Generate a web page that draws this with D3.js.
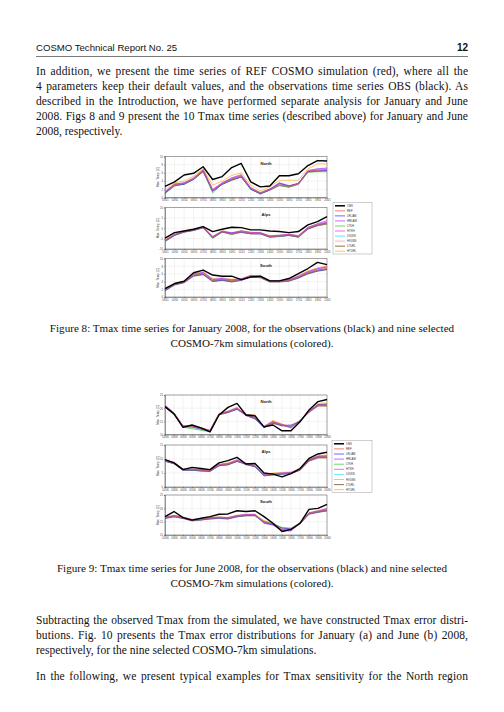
<!DOCTYPE html>
<html><head><meta charset="utf-8">
<script src="https://cdn.jsdelivr.net/npm/d3@7/dist/d3.min.js"></script>
<style>
html,body{margin:0;padding:0;background:#fff;}
svg{display:block;}
</style>
</head><body>
<svg id="page" width="504" height="712"></svg>
<script>
// ---------------- DATA ----------------
const seriesNames = ["OBS","REF","LRLAM","HRLAM","LTKH","HTKH","LV0SN","HV0SN","LTURL","HTURL"];
const seriesColors = ["#000000","#f0504a","#3a3aff","#a040ff","#30d030","#ff30ff","#30e0f0","#ff90a8","#7a3a10","#ffb020"];

const janDates = ["03/01","04/01","05/01","06/01","07/01","08/01","09/01","10/01","11/01","12/01","13/01","14/01","15/01","16/01","17/01","18/01","19/01","20/01"];
const junDates = ["02/06","03/06","04/06","05/06","06/06","07/06","08/06","09/06","10/06","11/06","12/06","13/06","14/06","15/06","16/06","17/06","18/06","19/06","20/06"];

const janNorthTicks = [0,2,4,6,8,10];
const janAlpsTicks = [-10,-5,0,5,10];
const janSouthTicks = [0,2,4,6,8,10];
const junNorthTicks = [10,15,20,25];
const junAlpsTicks = [0,5,10,15];
const junSouthTicks = [10,15,20,25];

// rows follow seriesNames order
const janNorth = [
 [2.7,3.8,5.5,5.9,7.5,4.4,5.1,7.3,8.3,3.8,2.6,2.8,5.3,5.3,5.8,7.8,9.0,8.9],
 [1.3,3.1,3.5,4.6,6.6,1.8,3.4,4.5,5.2,2.3,1.1,2.0,3.1,2.7,3.4,6.4,6.6,6.8],
 [1.1,3.0,3.2,4.4,6.4,1.5,3.2,4.3,5.0,2.0,0.9,1.8,3.4,2.8,3.5,6.3,6.5,6.6],
 [1.4,3.3,3.6,4.8,6.8,2.0,3.6,4.8,5.6,2.4,1.2,2.1,3.6,2.9,3.3,6.6,7.0,7.2],
 [1.0,2.9,3.3,4.5,6.5,1.1,3.3,4.4,5.0,2.1,0.8,1.9,3.0,2.6,3.3,6.2,6.3,6.3],
 [1.2,3.2,3.4,4.7,6.7,1.7,3.5,4.7,5.4,2.2,1.0,2.0,3.5,2.8,3.4,6.5,6.9,7.0],
 [1.3,3.1,3.4,4.6,6.6,1.8,3.4,4.5,5.2,2.3,1.1,2.0,3.1,2.7,3.4,6.4,6.6,6.8],
 [1.4,3.2,3.5,4.5,6.6,1.9,3.4,4.6,5.3,2.3,1.1,2.1,3.1,2.7,3.4,6.4,6.7,6.8],
 [1.0,2.8,3.3,4.4,6.3,1.6,3.2,4.2,5.0,2.0,1.0,1.8,2.9,2.5,3.2,6.2,6.4,6.5],
 [1.8,3.6,4.0,5.2,7.0,3.0,4.0,5.4,6.0,3.0,1.6,2.6,4.2,4.2,4.2,7.0,8.2,8.2]
];
const janAlps = [
 [-4.8,-2.1,-1.3,-0.5,0.8,-1.6,-0.5,0.5,0.3,-0.8,-0.8,-1.3,-1.6,-2.1,-1.6,1.6,3.2,5.6],
 [-6.0,-3.2,-1.6,-0.8,0.5,-4.4,-1.6,-2.7,-1.6,-2.4,-2.4,-4.0,-3.7,-3.2,-4.0,0.0,1.6,2.4],
 [-6.2,-3.4,-1.8,-1.0,0.3,-4.6,-1.8,-2.4,-1.9,-2.6,-2.7,-4.2,-3.9,-3.4,-4.2,-0.2,1.4,2.6],
 [-5.8,-3.0,-1.4,-0.6,0.7,-4.0,-1.4,-2.2,-1.2,-2.0,-2.1,-3.7,-3.4,-2.9,-3.6,0.4,2.2,3.7],
 [-6.3,-3.4,-1.7,-0.9,0.4,-4.8,-1.7,-2.9,-1.8,-2.6,-2.5,-4.2,-3.9,-3.4,-4.2,-0.2,1.4,2.2],
 [-5.9,-3.1,-1.5,-0.7,0.6,-4.2,-1.5,-2.5,-1.4,-2.2,-2.3,-3.8,-3.5,-3.0,-3.8,0.2,1.9,3.0],
 [-6.0,-3.2,-1.6,-0.8,0.5,-4.4,-1.6,-2.7,-1.6,-2.4,-2.4,-4.0,-3.7,-3.2,-4.0,0.0,1.6,2.4],
 [-6.1,-3.3,-1.6,-0.8,0.5,-4.3,-1.6,-2.6,-1.7,-2.4,-2.5,-4.0,-3.7,-3.3,-4.0,0.0,1.7,2.5],
 [-6.4,-3.5,-1.9,-1.1,0.2,-4.7,-1.9,-3.0,-2.0,-2.7,-2.7,-4.3,-4.0,-3.5,-4.3,-0.4,1.2,2.0],
 [-5.6,-2.8,-1.3,-0.5,0.8,-3.8,-1.2,-2.2,-1.2,-2.0,-2.0,-3.6,-3.3,-2.8,-3.6,0.5,2.0,2.8]
];
const janSouth = [
 [2.2,3.5,4.1,6.3,7.0,5.7,5.4,5.4,4.5,5.2,5.4,4.2,4.2,4.8,6.1,7.4,9.0,8.4],
 [1.9,3.3,3.9,5.7,6.1,4.3,4.6,4.2,4.5,5.4,5.2,4.1,4.1,4.3,5.2,6.3,7.0,7.4],
 [1.7,3.2,3.8,5.5,5.9,4.1,4.4,4.0,4.4,5.3,5.1,4.0,4.0,4.2,5.0,6.1,6.8,7.2],
 [2.1,3.4,4.0,6.0,6.4,4.6,4.8,4.5,4.7,5.6,5.4,4.2,4.2,4.5,5.4,6.6,7.4,7.8],
 [1.8,3.2,3.8,5.6,6.0,4.2,4.5,4.1,4.4,5.3,5.1,4.0,4.0,4.2,5.1,6.2,6.9,7.3],
 [2.0,3.4,4.0,5.9,6.3,4.5,4.7,4.4,4.6,5.5,5.3,4.2,4.2,4.4,5.3,6.5,7.3,7.9],
 [1.9,3.3,3.9,5.7,6.1,4.3,4.6,4.2,4.5,5.4,5.2,4.1,4.1,4.3,5.2,6.3,7.0,7.4],
 [2.0,3.3,3.9,5.8,6.2,4.4,4.6,4.3,4.5,5.4,5.2,4.1,4.1,4.3,5.2,6.4,7.2,7.7],
 [1.6,3.1,3.7,5.4,5.8,4.0,4.3,3.9,4.3,5.2,5.0,3.9,3.9,4.1,4.9,6.0,6.7,7.1],
 [2.2,3.5,4.1,6.1,6.6,4.8,5.0,4.6,4.8,5.6,5.5,4.3,4.3,4.6,5.6,6.8,7.6,8.0]
];
const junNorth = [
 [20.6,17.8,12.7,13.6,12.5,11.0,17.4,20.3,21.8,17.4,17.0,12.9,13.6,11.4,11.4,14.8,19.3,22.5,23.3],
 [20.8,18.0,13.2,13.2,12.3,11.4,17.8,18.6,19.9,17.4,16.1,12.9,14.8,13.6,13.2,15.2,18.6,21.2,21.2],
 [21.0,18.2,13.0,12.8,12.0,11.2,17.6,18.4,19.6,17.2,15.9,12.6,14.4,13.4,13.6,15.0,18.8,21.4,21.6],
 [20.6,17.8,13.3,13.4,12.5,11.6,17.9,18.8,20.1,17.5,16.3,13.1,14.9,13.8,12.6,15.3,18.5,21.0,21.0],
 [20.7,17.9,12.8,12.2,11.6,11.0,17.6,18.5,19.8,17.3,16.0,12.8,14.6,13.5,13.1,15.1,18.6,21.2,21.3],
 [20.9,18.0,13.2,13.3,12.4,11.5,17.8,18.7,20.0,17.4,16.2,13.0,14.9,13.7,12.4,15.2,18.7,21.3,21.3],
 [20.8,18.0,13.2,13.2,12.3,11.4,17.8,18.6,19.9,17.4,16.1,12.9,14.8,13.6,13.2,15.2,18.6,21.2,21.2],
 [20.8,18.1,13.1,13.1,12.3,11.4,17.7,18.6,19.9,17.5,16.2,12.9,14.7,13.6,13.3,15.2,18.7,21.3,21.3],
 [20.4,17.6,12.9,13.0,12.1,11.2,17.5,18.3,19.6,17.6,17.4,12.6,14.2,13.3,13.0,15.0,18.4,20.8,20.8],
 [21.2,18.3,13.4,13.5,12.6,11.6,18.0,18.9,20.4,17.2,16.0,13.2,15.4,14.0,13.0,15.4,19.0,21.8,22.0]
];
const junAlps = [
 [9.8,8.6,6.2,7.0,6.6,6.2,8.6,9.4,10.6,8.2,8.4,5.0,4.6,3.6,4.8,6.6,10.2,11.8,12.4],
 [9.4,8.6,6.2,6.2,6.0,5.8,7.8,8.2,9.4,8.2,7.4,4.2,4.6,4.8,5.0,6.2,9.6,10.8,10.8],
 [9.2,8.4,6.0,6.0,5.8,5.6,7.6,8.0,9.2,8.0,7.2,4.0,4.4,4.6,4.9,6.0,9.4,10.6,10.6],
 [9.6,8.8,6.4,6.4,6.2,6.0,8.0,8.4,9.6,8.4,7.6,4.4,4.8,5.0,5.2,6.4,9.8,11.0,11.2],
 [9.3,8.5,6.1,6.0,5.8,5.6,7.7,8.1,9.3,8.1,7.3,4.1,4.5,4.7,4.9,6.1,9.5,10.7,10.7],
 [9.5,8.7,6.3,6.3,6.1,5.9,7.9,8.3,9.5,8.3,7.5,4.3,4.7,4.9,5.1,6.3,9.7,10.9,11.0],
 [9.4,8.6,6.2,6.2,6.0,5.8,7.8,8.2,9.4,8.2,7.4,4.2,4.6,4.8,5.0,6.2,9.6,10.8,10.8],
 [9.4,8.6,6.2,6.1,6.0,5.8,7.8,8.2,9.4,8.2,7.4,4.2,4.6,4.8,5.0,6.2,9.6,10.9,10.9],
 [9.2,8.3,6.0,6.0,5.7,5.6,7.6,7.9,9.1,8.4,7.6,4.0,4.3,4.6,4.8,6.0,9.2,10.4,10.4],
 [9.7,8.9,6.5,6.5,6.3,6.0,8.1,8.6,9.8,8.0,7.2,4.5,5.0,5.2,5.4,6.6,10.0,11.2,11.4]
];
const junSouth = [
 [16.9,18.8,16.5,15.6,16.3,16.9,17.8,17.9,19.1,18.8,19.1,16.9,14.4,11.3,12.1,14.4,19.6,20.0,21.5],
 [16.5,17.1,16.5,15.6,15.9,16.3,16.5,16.3,17.1,17.5,17.5,15.0,14.1,12.1,11.9,14.4,18.1,18.8,19.4],
 [16.3,16.9,16.3,15.4,15.7,16.1,16.3,16.1,16.9,17.3,17.3,14.6,13.9,12.6,12.3,14.2,17.9,18.6,19.2],
 [16.7,17.3,16.7,15.8,16.1,16.5,16.7,16.5,17.3,17.7,17.7,14.4,13.8,11.8,11.6,14.6,18.3,19.0,19.8],
 [16.4,17.0,16.4,15.5,15.8,16.2,16.4,16.2,17.0,17.4,17.4,15.2,14.3,12.8,12.6,14.3,18.0,18.7,19.3],
 [16.6,17.2,16.6,15.7,16.0,16.4,16.6,16.4,17.2,17.6,17.6,14.8,13.7,11.6,11.5,14.5,18.2,18.9,19.9],
 [16.5,17.1,16.5,15.6,15.9,16.3,16.5,16.3,17.1,17.5,17.5,15.0,14.1,12.1,11.9,14.4,18.1,18.8,19.4],
 [16.5,17.1,16.5,15.6,15.9,16.3,16.5,16.3,17.1,17.5,17.5,15.1,14.2,12.4,12.2,14.4,18.1,18.8,19.5],
 [16.2,16.8,16.2,15.3,15.6,16.0,16.2,16.0,16.8,17.2,17.2,14.8,13.9,12.0,11.8,14.2,17.8,18.5,19.0],
 [16.8,17.4,16.8,15.9,16.2,16.6,16.8,16.6,17.4,17.8,17.8,15.4,14.5,12.6,12.4,14.7,18.4,19.2,20.0]
];

// page text
const headerLeft = "COSMO Technical Report No. 25";
const headerRight = "12";
const para1 = [
 "In addition, we present the time series of REF COSMO simulation (red), where all the",
 "4 parameters keep their default values, and the observations time series OBS (black). As",
 "described in the Introduction, we have performed separate analysis for January and June",
 "2008. Figs 8 and 9 present the 10 Tmax time series (described above) for January and June",
 "2008, respectively."
];
const cap8 = ["Figure 8: Tmax time series for January 2008, for the observations (black) and nine selected",
              "COSMO-7km simulations (colored)."];
const cap9 = ["Figure 9: Tmax time series for June 2008, for the observations (black) and nine selected",
              "COSMO-7km simulations (colored)."];
const para2 = [
 "Subtracting the observed Tmax from the simulated, we have constructed Tmax error distri-",
 "butions. Fig. 10 presents the Tmax error distributions for January (a) and June (b) 2008,",
 "respectively, for the nine selected COSMO-7km simulations."
];
const para3 = ["In the following, we present typical examples for Tmax sensitivity for the North region"];

// ---------------- DRAW ----------------
const svg = d3.select("#page");
svg.append("rect").attr("width",504).attr("height",712).attr("fill","#fff");

const LM = 36, RM = 468, TW = RM - LM;
const serif = "'Liberation Serif','Times New Roman',serif";
const sans = "'Liberation Sans',Arial,sans-serif";
const FS = 11.5;

function line(txt, x, y, opts={}) {
  const t = svg.append("text").attr("x",x).attr("y",y).text(txt)
    .attr("font-family", opts.family || serif)
    .attr("font-size", opts.size || FS)
    .attr("fill","#111");
  if (opts.anchor) t.attr("text-anchor", opts.anchor);
  if (opts.weight) t.attr("font-weight", opts.weight);
  if (opts.width) {
    // justify: half via word spaces, rest via letter spacing
    const nat = t.node().getComputedTextLength();
    const gaps = (txt.match(/ /g) || []).length;
    const extra = opts.width - nat;
    if (extra > 0 && gaps > 0) {
      const ls = (extra * 0.35) / (txt.length - 1);
      const ws = (extra * 0.65) / gaps;
      t.attr("letter-spacing", ls.toFixed(3)).attr("word-spacing", ws.toFixed(3));
    }
  }
  return t;
}

// header
line(headerLeft, LM, 51, {family: sans, size: 9.6});
line(headerRight, RM, 51, {family: sans, size: 10, weight: "bold", anchor: "end"});
svg.append("line").attr("x1",LM).attr("x2",RM).attr("y1",56.5).attr("y2",56.5).attr("stroke","#222").attr("stroke-width",0.6);

function paragraph(lines, y0, dy, justifyLast=false) {
  lines.forEach((s,i) => {
    const last = i === lines.length-1;
    line(s, LM, y0 + i*dy, (last && !justifyLast) ? {} : {width: TW});
  });
}
paragraph(para1, 75, 15.1);
paragraph(para2, 623.5, 15.3);
paragraph(para3, 679.5, 15, true);

cap8.forEach((s,i)=> line(s, 252, 331.5 + i*15, {anchor:"middle", size: 11.1}));
cap9.forEach((s,i)=> line(s, 252, 571.5 + i*15, {anchor:"middle", size: 11.1}));

// chart panels
function panel(cfg) {
  const g = svg.append("g");
  const x = d3.scalePoint().domain(cfg.dates).range([cfg.left, cfg.right]);
  const y = d3.scaleLinear().domain([cfg.ticks[0], cfg.ticks[cfg.ticks.length-1]]).range([cfg.bottom, cfg.top]);
  // grid
  g.append("g").selectAll("line.v").data(cfg.dates).join("line")
    .attr("x1", d=>x(d)).attr("x2", d=>x(d)).attr("y1", cfg.top).attr("y2", cfg.bottom)
    .attr("stroke","#dcdcdc").attr("stroke-width",0.35);
  g.append("g").selectAll("line.h").data(cfg.ticks).join("line")
    .attr("x1", cfg.left).attr("x2", cfg.right).attr("y1", d=>y(d)).attr("y2", d=>y(d))
    .attr("stroke","#dcdcdc").attr("stroke-width",0.35);
  // axes
  const ax = g.append("g").attr("transform",`translate(0,${cfg.bottom})`)
    .call(d3.axisBottom(x).tickSize(1).tickPadding(1));
  const ay = g.append("g").attr("transform",`translate(${cfg.left},0)`)
    .call(d3.axisLeft(y).tickValues(cfg.ticks).tickSize(1).tickPadding(1));
  [ax, ay].forEach(a => {
    a.selectAll("path").attr("stroke","#333").attr("stroke-width",0.4);
    a.selectAll("line").attr("stroke","#333").attr("stroke-width",0.4);
    a.selectAll("text").attr("font-size",2.6).attr("font-family",sans).attr("fill","#444");
  });
  // frame
  g.append("rect").attr("x",cfg.left).attr("y",cfg.top).attr("width",cfg.right-cfg.left)
    .attr("height",cfg.bottom-cfg.top).attr("fill","none").attr("stroke","#444").attr("stroke-width",0.45);
  // y label
  g.append("text").attr("transform",`translate(${cfg.left-6.5},${(cfg.top+cfg.bottom)/2}) rotate(-90)`)
    .attr("text-anchor","middle").attr("font-size",3).attr("font-family",sans).attr("fill","#444")
    .text("Max. Temp. [C]");
  // title
  g.append("text").attr("x", (cfg.left+cfg.right)/2 + 20).attr("y", cfg.top + 8)
    .attr("text-anchor","middle").attr("font-size",4.2).attr("font-weight","bold")
    .attr("font-family",sans).attr("fill","#222").text(cfg.title);
  // lines
  const gen = d3.line().x((d,i)=>x(cfg.dates[i])).y(d=>y(d));
  const order = [9,8,7,6,5,4,3,2,1,0];
  order.forEach(k => {
    g.append("path").attr("d", gen(cfg.series[k])).attr("fill","none")
      .attr("stroke", seriesColors[k]).attr("stroke-width", k===0 ? 1.4 : 0.7)
      .attr("stroke-linejoin","round");
  });
}

function legend(x0, y0, w, h) {
  const g = svg.append("g");
  g.append("rect").attr("x",x0).attr("y",y0).attr("width",w).attr("height",h)
    .attr("fill","#fff").attr("stroke","#888").attr("stroke-width",0.4);
  const ly = d3.scalePoint().domain(seriesNames).range([y0+3.3, y0+h-2.8]);
  seriesNames.forEach((n,i) => {
    g.append("line").attr("x1",x0+2).attr("x2",x0+12).attr("y1",ly(n)).attr("y2",ly(n))
      .attr("stroke",seriesColors[i]).attr("stroke-width", i===0?1.5:0.75);
    g.append("text").attr("x",x0+14).attr("y",ly(n)+1).attr("font-size",2.8)
      .attr("font-family",sans).attr("fill","#333").text(n);
  });
}

const L = 165, R = 327;
panel({dates: janDates, series: janNorth, ticks: janNorthTicks, left:L, right:R, top:156.5, bottom:197.5, title:"North"});
panel({dates: janDates, series: janAlps,  ticks: janAlpsTicks,  left:L, right:R, top:207.5, bottom:249,   title:"Alps"});
panel({dates: janDates, series: janSouth, ticks: janSouthTicks, left:L, right:R, top:258.5, bottom:297,   title:"South"});
legend(333, 202.5, 39, 51.5);

panel({dates: junDates, series: junNorth, ticks: junNorthTicks, left:L, right:R, top:395, bottom:434.5, title:"North"});
panel({dates: junDates, series: junAlps,  ticks: junAlpsTicks,  left:L, right:R, top:445, bottom:487,   title:"Alps"});
panel({dates: junDates, series: junSouth, ticks: junSouthTicks, left:L, right:R, top:495, bottom:535,   title:"South"});
legend(332, 440.5, 40, 52);
</script>
</body></html>
